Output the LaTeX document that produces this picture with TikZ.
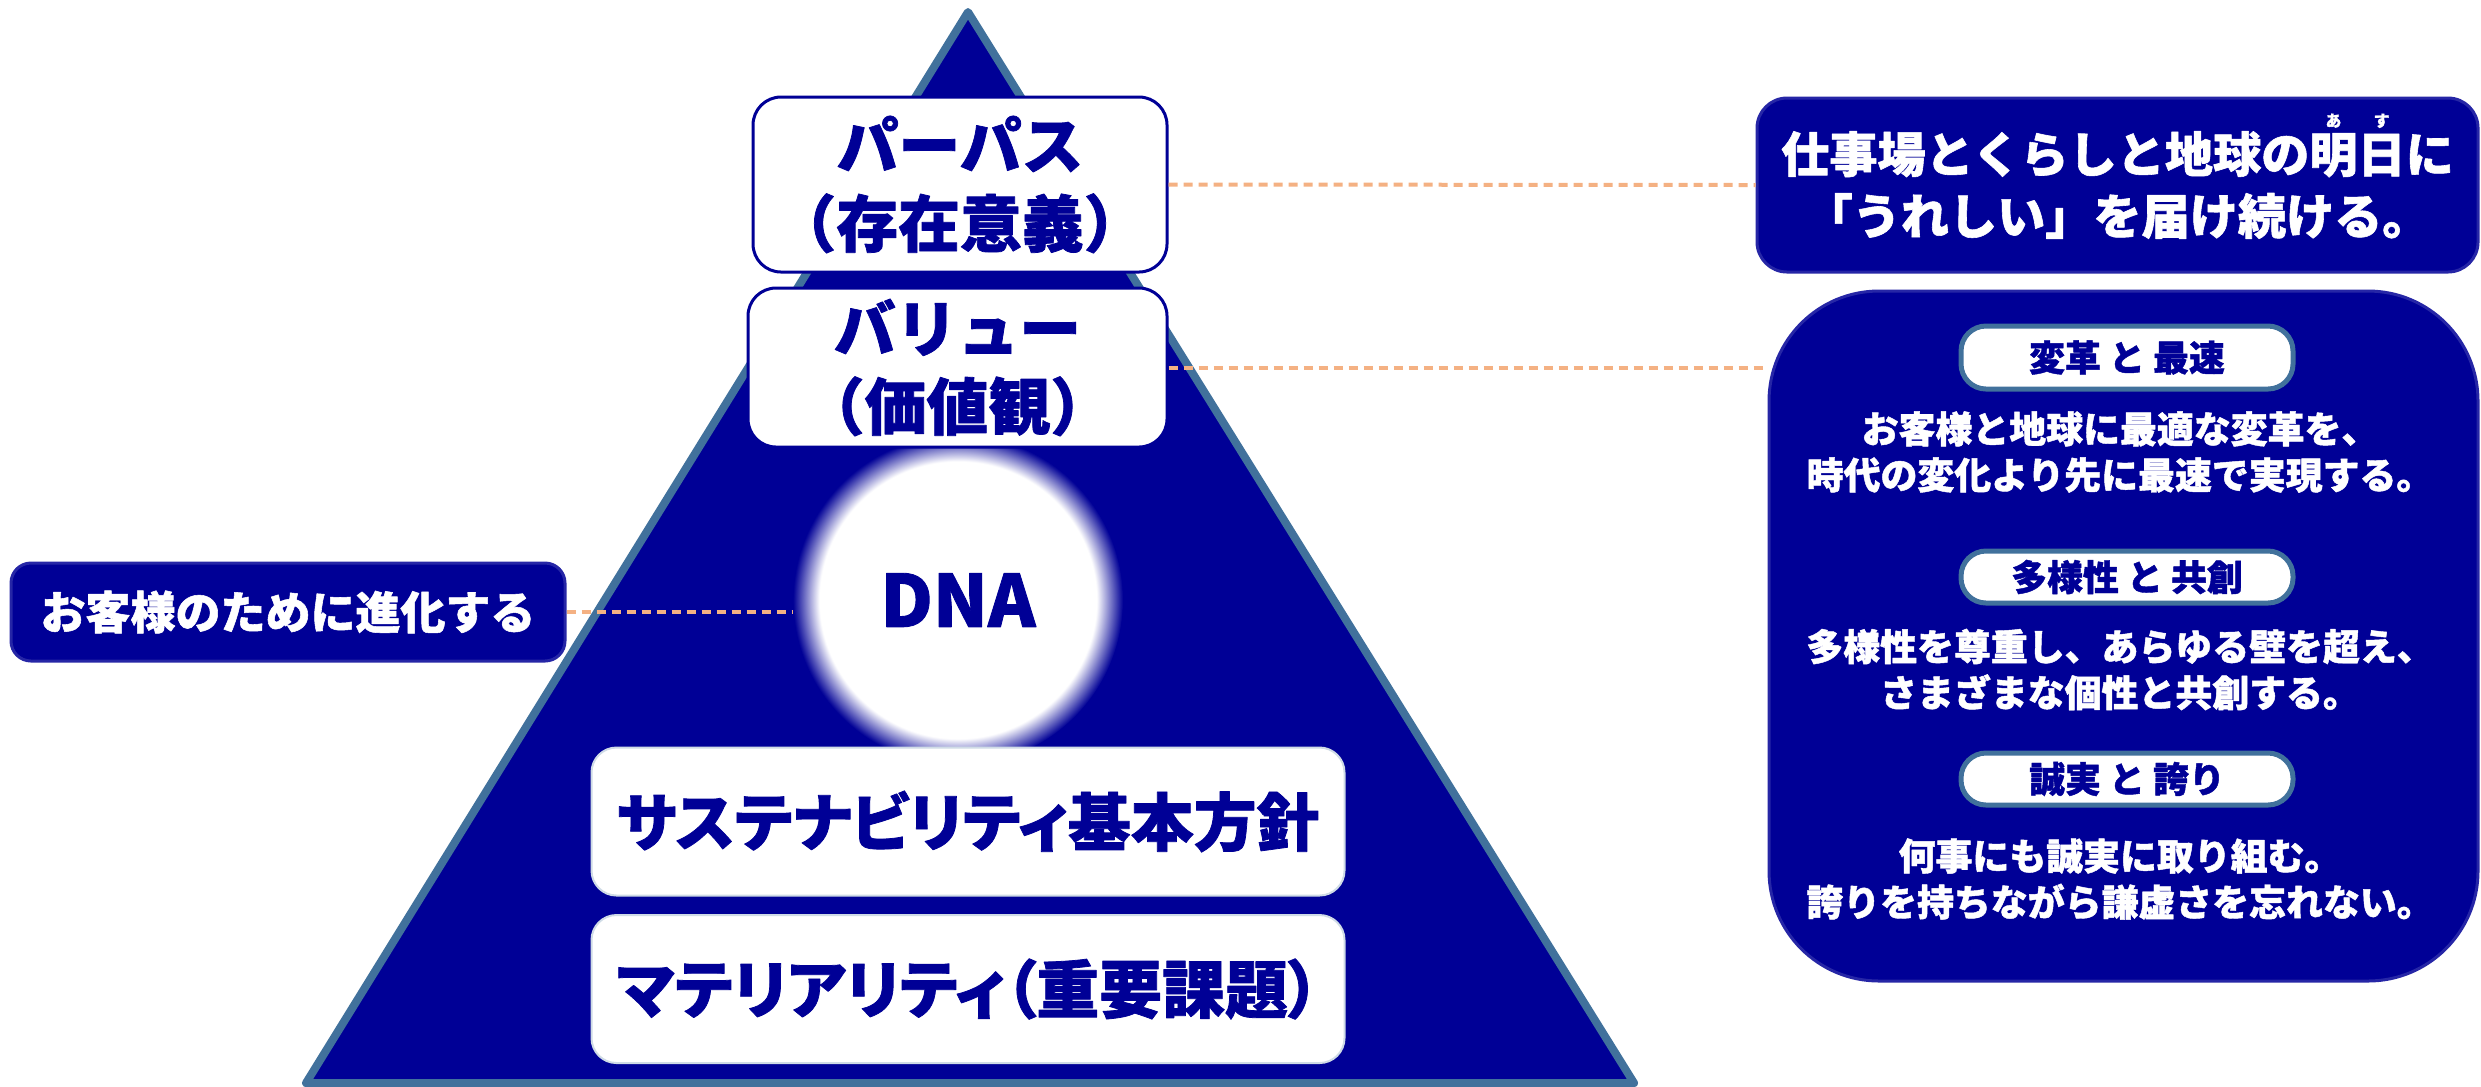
\documentclass[tikz,border=0pt]{standalone}
\usepackage{fontspec}
\newfontfamily\jpfont{Noto Sans CJK JP}[BoldFeatures={FakeBold=1.2}]
\newfontfamily\jppfont{Noto Sans CJK JP}[RawFeature=+palt,BoldFeatures={FakeBold=1.2}]
\definecolor{dnablue}{HTML}{000096}
\definecolor{edgeblue}{HTML}{41719C}
\definecolor{peach}{HTML}{F4B183}
\pgfdeclareradialshading{dnaglow}{\pgfpoint{0bp}{0bp}}{color(0bp)=(white); color(21bp)=(white); color(25bp)=(dnablue); color(50bp)=(dnablue)}
\newcommand\furi[2]{\leavevmode\setbox0\hbox{#1}\rlap{\raisebox{0.95em}[0pt][0pt]{\makebox[\wd0]{\fontsize{4.5}{5}\selectfont #2}}}\box0}
\begin{document}
\begin{tikzpicture}[x=0.1mm,y=-0.1mm,line join=round,line cap=round,
	lightbox/.style={draw=dnablue,line width=0.3mm,fill=white,rounded corners=2.8mm,text=dnablue,align=center,inner sep=0pt,font=\jpfont\bfseries\fontsize{17.6}{22.2}\selectfont},
	basebox/.style={fill=white,draw=white!75!edgeblue,line width=0.2mm,rounded corners=2.5mm,text=dnablue,inner sep=0pt,minimum width=75.3mm,minimum height=14.8mm,font=\jppfont\bfseries\fontsize{17.9}{20}\selectfont},
	darkbox/.style={fill=dnablue,draw=dnablue!85!white,line width=0.3mm,text=white,align=center,inner sep=0pt},
	pill/.style={fill=white,draw=edgeblue,line width=0.5mm,rounded corners=2.5mm,text=dnablue,inner sep=0pt,minimum width=33.2mm,font=\jpfont\bfseries\fontsize{10.2}{12}\selectfont},
	desc/.style={text=white,align=center,inner sep=0pt,font=\jpfont\bfseries\fontsize{10.5}{13.1}\selectfont},
	link/.style={draw=peach,line width=0.4mm,dash pattern=on 0.9mm off 0.6mm,line cap=butt}]
	\useasboundingbox (0,0) rectangle (2481,1086);
	% pyramid
	\draw[line width=0.8mm,draw=edgeblue,fill=dnablue] (968,12)--(1634,1083)--(306,1083)--cycle;
	\node[circle,shading=dnaglow,minimum size=33mm,inner sep=0pt,text=dnablue,font=\jpfont\bfseries\fontsize{20.5}{24}\selectfont] (dna) at (958,600) {DNA};
	\node[lightbox,minimum width=41.4mm,minimum height=17.5mm] (purpose) at (960,184.5) {パーパス\\（存在意義）};
	\node[lightbox,minimum width=41.9mm,minimum height=15.9mm] (value) at (957.5,367.5) {バリュー\\（価値観）};
	\node[basebox] (sust) at (968,821.5) {サステナビリティ基本方針};
	\node[basebox] (mat) at (968,989) {マテリアリティ（重要課題）};
	% right side
	\node[darkbox,rounded corners=3mm,minimum width=72.1mm,minimum height=17.4mm,font=\jpfont\bfseries\fontsize{13.7}{17.6}\selectfont] (mission) at (2117.5,185) {仕事場とくらしと地球の\furi{明}{あ}\furi{日}{す}に\\「うれしい」を届け続ける。};
	\node[darkbox,rounded corners=11mm,minimum width=70.9mm,minimum height=69mm] (values) at (2123.5,636) {};
	\foreach \nm/\py/\ph/\ty/\head/\body in {
		change/357.5/6.3/452/{変革 と 最速}/{お客様と地球に最適な変革を、\\時代の変化より先に最速で実現する。},
		diverse/577/5.2/669.5/{多様性 と 共創}/{多様性を尊重し、あらゆる壁を超え、\\さまざまな個性と共創する。},
		honest/779/5.2/879/{誠実 と 誇り}/{何事にも誠実に取り組む。\\誇りを持ちながら謙虚さを忘れない。}}
	{
		\node[pill,minimum height=\ph mm] (\nm) at (2127,\py) {\head};
		\node[desc] (\nm txt) at (2120,\ty) {\body};
	}
	% left side
	\node[darkbox,rounded corners=2mm,minimum width=55.4mm,minimum height=9.8mm,font=\jpfont\bfseries\fontsize{12.8}{15}\selectfont] (evolve) at (288,612) {お客様のために進化する};
	\draw[link] (purpose.east)--(mission.west);
	\draw[link] (value.east)--(value.east -| values.west);
	\draw[link] (evolve.east)--(evolve.east -| dna.west);
\end{tikzpicture}
\end{document}
